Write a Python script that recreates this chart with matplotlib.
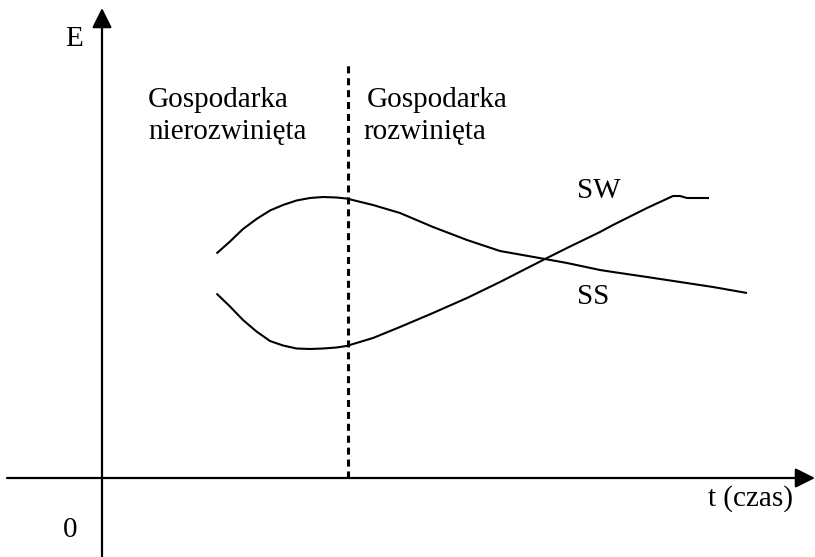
import matplotlib
matplotlib.use("Agg")
import matplotlib.pyplot as plt

# ---- data (arbitrary units: t = time, E = value) ----
ss_t = [2.29, 2.56, 2.82, 3.09, 3.36, 3.62, 3.89, 4.16, 4.42, 4.69, 4.89, 5.42,
        5.96, 6.62, 7.30, 7.96, 8.86, 9.30, 9.96, 10.22, 10.90, 11.56, 12.22, 12.90]
ss_e = [4.49, 4.73, 4.98, 5.18, 5.35, 5.46, 5.55, 5.60, 5.62, 5.61, 5.59, 5.46,
        5.30, 5.02, 4.76, 4.54, 4.38, 4.30, 4.16, 4.12, 4.02, 3.92, 3.82, 3.70]

sw_t = [2.29, 2.56, 2.82, 3.09, 3.36, 3.62, 3.89, 4.16, 4.42, 4.69, 4.89, 5.42,
        5.96, 6.62, 7.30, 7.96, 8.86, 9.30, 9.96, 10.22, 10.90, 11.42, 11.56,
        11.70, 12.14]
sw_e = [3.69, 3.43, 3.16, 2.93, 2.74, 2.65, 2.59, 2.58, 2.59, 2.61, 2.64, 2.80,
        3.02, 3.30, 3.60, 3.92, 4.38, 4.60, 4.92, 5.06, 5.40, 5.64, 5.64,
        5.60, 5.60]

divider_t = 4.92
divider_top = 8.32

label_left = ["Gospodarka", "nierozwinięta"]
label_right = ["Gospodarka", "rozwinięta"]
series_labels = ["SW", "SS"]
axis_y_label = "E"
axis_x_label = "t (czas)"
origin_label = "0"

plt.rcParams['font.family'] = ['Liberation Serif', 'DejaVu Serif']

fig = plt.figure(figsize=(8.15, 5.57), dpi=100)
ax = fig.add_axes([0, 0, 1, 1])
ax.set_xlim(-2.04, 14.26)
ax.set_ylim(-1.58, 9.56)
ax.axis('off')

# axes with arrows
arrow_kw = dict(arrowstyle='-|>,head_length=0.6,head_width=0.3', lw=1.6,
                color='black', mutation_scale=20, shrinkA=0, shrinkB=0)
ax.annotate('', xy=(14.26, 0), xytext=(-1.90, 0), arrowprops=arrow_kw)
ax.annotate('', xy=(0, 9.40), xytext=(0, -1.58), arrowprops=arrow_kw)

# dashed divider
ax.plot([divider_t, divider_t], [0, divider_top], color='black', lw=2.2,
        dashes=(2.3, 1.6))

# curves
ax.plot(ss_t, ss_e, color='black', lw=1.5, solid_joinstyle='round',
        solid_capstyle='butt')
ax.plot(sw_t, sw_e, color='black', lw=1.5, solid_joinstyle='round',
        solid_capstyle='butt')

fs = 21
ax.text(-0.56, 8.78, axis_y_label, fontsize=fs, ha='center', va='center')
ax.text(0.92, 7.42, label_left[0], fontsize=fs, ha='left', va='baseline')
ax.text(0.92, 6.78, label_left[1], fontsize=fs, ha='left', va='baseline')
ax.text(5.30, 7.42, label_right[0], fontsize=fs, ha='left', va='baseline')
ax.text(5.22, 6.78, label_right[1], fontsize=fs, ha='left', va='baseline')
ax.text(9.50, 5.60, series_labels[0], fontsize=fs, ha='left', va='baseline')
ax.text(9.50, 3.48, series_labels[1], fontsize=fs, ha='left', va='baseline')
ax.text(12.12, -0.56, axis_x_label, fontsize=fs, ha='left', va='baseline')
ax.text(-0.63, -1.18, origin_label, fontsize=fs, ha='center', va='baseline')

fig.savefig("out.png", dpi=100)
